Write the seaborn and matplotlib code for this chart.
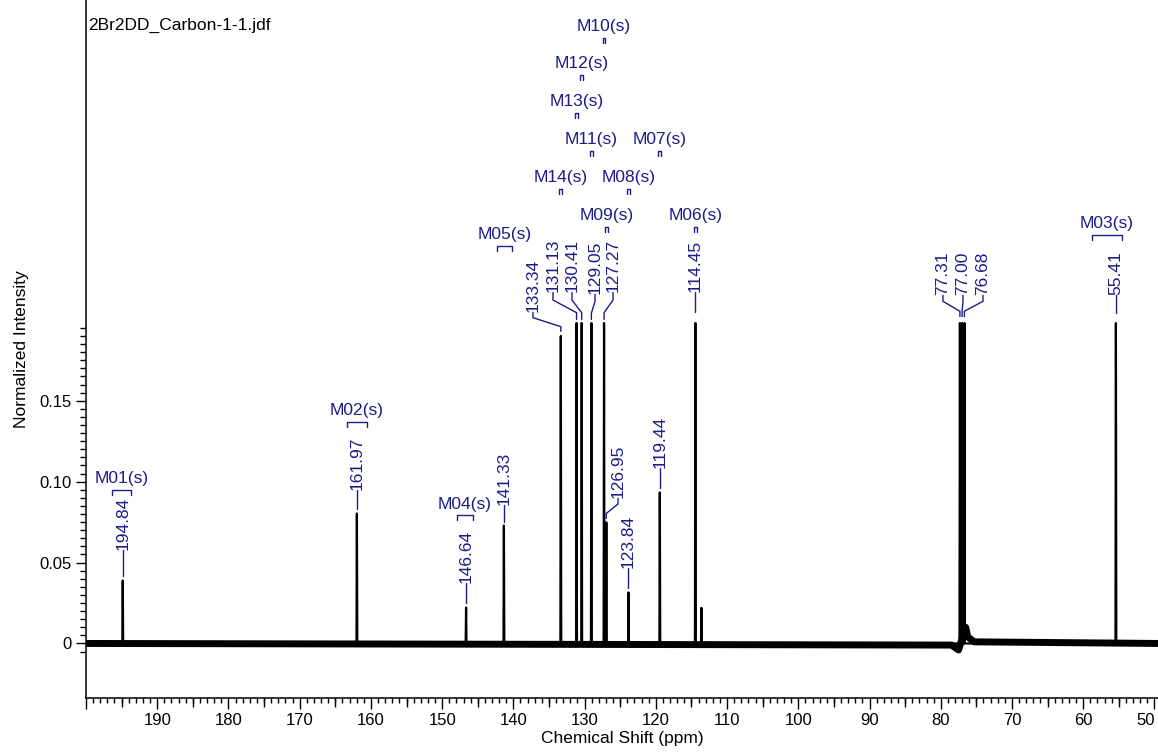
import numpy as np
import pandas as pd
import matplotlib
matplotlib.use("Agg")
import matplotlib.pyplot as plt
from matplotlib.ticker import FixedLocator
import seaborn as sns

# ---------------- data ----------------
peak_ppm = [194.84, 161.97, 146.64, 141.33, 133.34, 131.13, 130.41, 129.05,
            127.27, 126.95, 123.84, 119.44, 114.45, 113.60, 77.31, 77.00, 76.68, 55.41]
peak_height = [0.0389, 0.0803, 0.0222, 0.0729, 0.190, 0.198, 0.198, 0.198,
               0.198, 0.0748, 0.0315, 0.0933, 0.198, 0.022, 0.198, 0.198, 0.198, 0.198]

# baseline trace (incl. the solvent distortion around 77 ppm)
baseline_ppm = [200.0, 78.5, 77.5, 76.5, 76.2, 75.3, 49.5]
baseline_int = [0.0, -0.001, -0.004, 0.010, 0.004, 0.001, 0.0]

# peak labels
label_ppm = [194.84, 161.97, 146.64, 141.33, 133.34, 131.13, 130.41, 129.05,
             127.27, 126.95, 123.84, 119.44, 114.45, 77.31, 77.00, 76.68, 55.41]
label_text = ["194.84", "161.97", "146.64", "141.33", "133.34", "131.13", "130.41", "129.05",
              "127.27", "126.95", "123.84", "119.44", "114.45", "77.31", "77.00", "76.68", "55.41"]
# layout of peak labels: text x, text bottom, connector end
label_x = [194.84, 161.97, 146.64, 141.33, 137.25, 134.44, 131.77, 128.54,
           126.01, 125.31, 123.84, 119.44, 114.45, 79.69, 76.88, 74.07, 55.41]
label_bottom = [0.0575, 0.0946, 0.0371, 0.0853, 0.2046, 0.2169, 0.2169, 0.2157,
                0.2169, 0.0896, 0.0464, 0.1082, 0.2169, 0.2151, 0.2151, 0.2151, 0.2151]
label_end = [0.0414, 0.0828, 0.0247, 0.0748, 0.1928, 0.2002, 0.2002, 0.2002,
             0.2002, 0.0773, 0.0340, 0.0958, 0.2046, 0.2020, 0.2020, 0.2020, 0.2040]

# multiplet labels
mult_name = ["M01(s)", "M02(s)", "M03(s)", "M04(s)", "M05(s)", "M06(s)", "M07(s)",
             "M08(s)", "M09(s)", "M10(s)", "M11(s)", "M12(s)", "M13(s)", "M14(s)"]
mult_start = [196.35, 163.36, 58.77, 147.92, 142.30, 114.65, 119.64,
              124.04, 127.15, 127.47, 129.25, 130.61, 131.33, 133.54]
mult_end = [193.68, 160.55, 54.56, 145.67, 140.19, 114.25, 119.24,
            123.64, 126.75, 127.07, 128.85, 130.21, 130.93, 133.14]
mult_level = [0.0946, 0.1366, 0.2522, 0.0791, 0.2454, 0.2571, 0.3041,
              0.2806, 0.2571, 0.3739, 0.3041, 0.3511, 0.3276, 0.2806]

x_major = list(range(200, 49, -10))
x_major_labels = ["" if v == 200 else str(v) for v in x_major]
y_major = [0.0, 0.05, 0.10, 0.15]
y_major_labels = ["0", "0.05", "0.10", "0.15"]

title_text = "2Br2DD_Carbon-1-1.jdf"

# ---------------- styling ----------------
sns.set_style("ticks", {"axes.edgecolor": "black", "text.color": "black",
                        "xtick.color": "black", "ytick.color": "black",
                        "axes.labelcolor": "black"})
plt.rcParams["font.family"] = ["Liberation Sans", "DejaVu Sans"]
BLUE = "#1c1c8a"

fig = plt.figure(figsize=(11.58, 7.52), dpi=100)
ax = fig.add_axes([86 / 1158, 54 / 752, 1072 / 1158, 698 / 752])

# baseline (noise band)
base_df = pd.DataFrame({"ppm": baseline_ppm, "intensity": baseline_int})
sns.lineplot(data=base_df, x="ppm", y="intensity", sort=False, estimator=None,
             color="black", lw=5.0, ax=ax)

# spikes
order = np.argsort(peak_ppm)[::-1]
sx, sy = [], []
for i in order:
    p, h = peak_ppm[i], peak_height[i]
    sx += [p + 0.06, p, p - 0.06]
    sy += [0.0, h, 0.0]
spec_df = pd.DataFrame({"ppm": sx, "intensity": sy})
sns.lineplot(data=spec_df, x="ppm", y="intensity", sort=False, estimator=None,
             color="black", lw=1.6, ax=ax)

# peak labels with connectors
for p, txt, lx, yb, ye in zip(label_ppm, label_text, label_x, label_bottom, label_end):
    L = yb - ye
    y1 = yb - 0.28 * L
    y2 = ye + 0.25 * L
    ax.plot([lx, lx, p, p], [yb, y1, y2, ye], color=BLUE, lw=1.0, solid_joinstyle="miter")
    ax.text(lx, yb, txt, rotation=90, ha="center", va="bottom", color=BLUE, fontsize=12.5)

# multiplet labels with brackets
d = 0.0028
for name, s, e, lev in zip(mult_name, mult_start, mult_end, mult_level):
    ax.plot([s, s, e, e], [lev - d, lev, lev, lev - d], color=BLUE, lw=1.0)
    ax.annotate(name, xy=((s + e) / 2, lev), xytext=(0, 5), textcoords="offset points",
                ha="center", va="baseline", color=BLUE, fontsize=12.5)

# axes
ax.set_xlim(200, 49.5)
ax.set_ylim(-0.0337, 0.3976)
ax.set_xticks(x_major)
ax.set_xticklabels(x_major_labels)
ax.xaxis.set_minor_locator(FixedLocator(list(range(199, 49, -1))))
ax.set_yticks(y_major)
ax.set_yticklabels(y_major_labels)
ax.yaxis.set_minor_locator(FixedLocator([k * 0.005 for k in range(-1, 40)]))

ax.tick_params(axis="x", which="major", length=8, width=1.0, direction="out",
               labelsize=12, pad=3)
ax.tick_params(axis="x", which="minor", length=3.8, width=1.0, direction="out",
               bottom=True)
ax.tick_params(axis="y", which="major", length=7, width=1.0, direction="out",
               labelsize=12, pad=3)
ax.tick_params(axis="y", which="minor", length=4.2, width=1.0, direction="out",
               left=True)

# keep the last tick label ("50") inside the figure
ax.get_xticklabels()[-1].set_horizontalalignment("right")

secax = ax.secondary_xaxis("bottom")
secax.set_xticks(list(range(195, 50, -10)))
secax.tick_params(axis="x", which="major", length=6.2, width=1.0, labelbottom=False)
secax.tick_params(axis="x", which="minor", bottom=False)
secax.spines["bottom"].set_visible(False)

for side in ["top", "right"]:
    ax.spines[side].set_visible(False)
for side in ["left", "bottom"]:
    ax.spines[side].set_linewidth(1.1)

ax.set_xlabel("Chemical Shift (ppm)", fontsize=12.5, labelpad=2)
ax.set_ylabel("Normalized Intensity", fontsize=12.5, labelpad=8)

ax.annotate(title_text, xy=(0, 1), xycoords="axes fraction", xytext=(1.5, -21.6),
            textcoords="offset points", ha="left", va="baseline", fontsize=12.5)

fig.savefig("out.png", dpi=100)
